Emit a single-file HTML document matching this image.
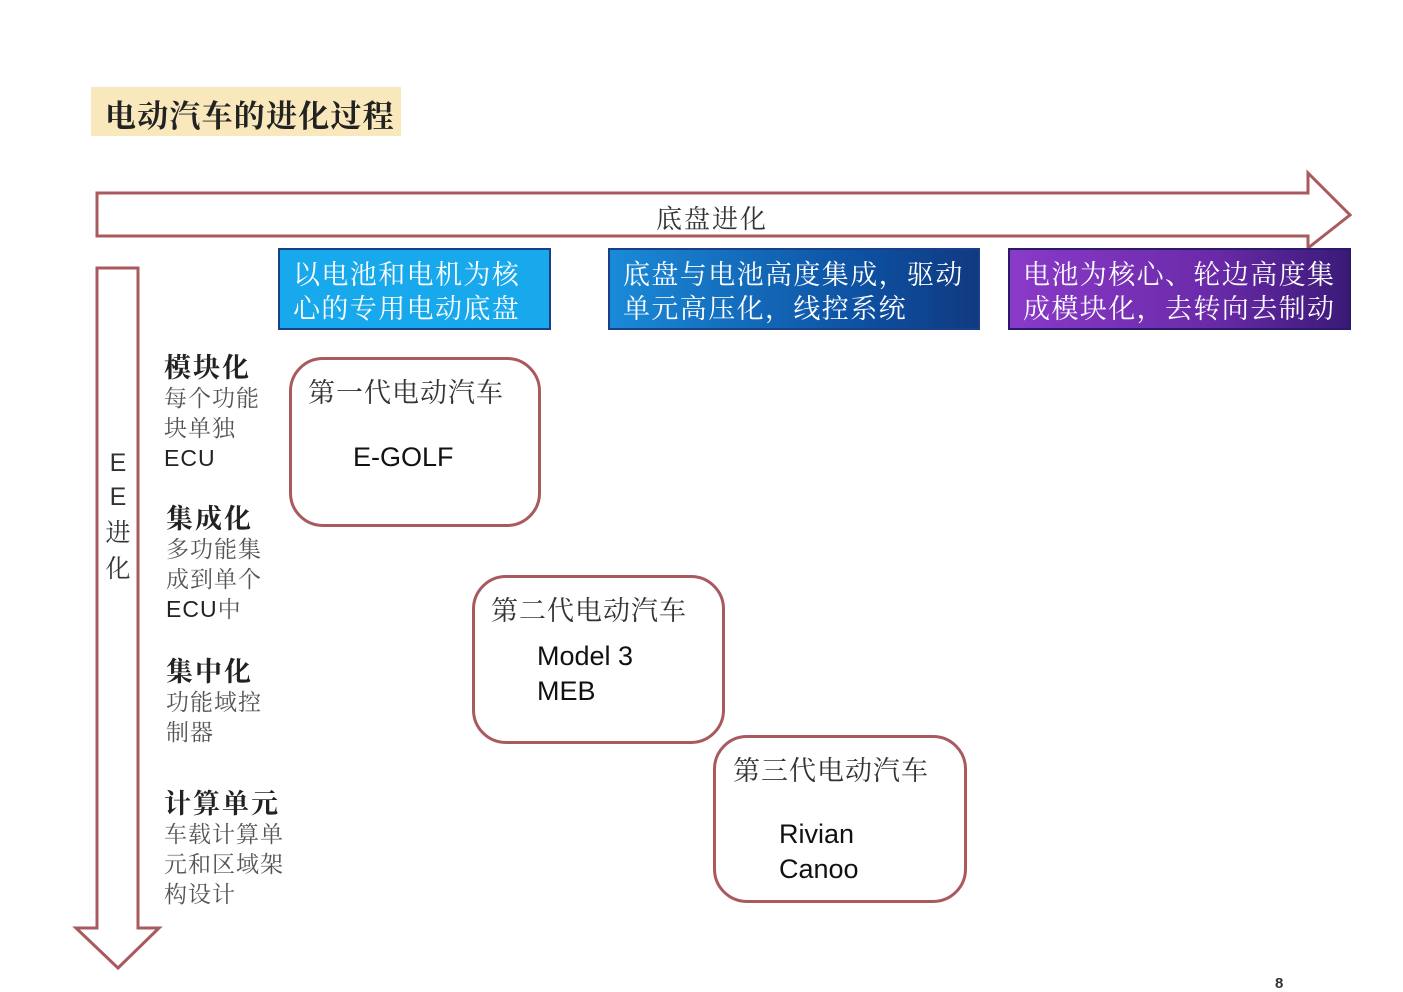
<!DOCTYPE html>
<html><head><meta charset="utf-8"><style>
body{margin:0;width:1403px;height:992px;background:#fff;position:relative;overflow:hidden;font-family:"Liberation Sans","Noto Sans CJK SC",sans-serif;}
.a{position:absolute}
.t{position:absolute;color:#fff;font-family:"Noto Serif CJK SC","Liberation Serif",serif;font-size:27px;letter-spacing:1.4px;line-height:34px;padding:6px 0 0 13px;box-sizing:border-box;border:2px solid #1a3f8a;white-space:nowrap}
.rb{position:absolute;border:3px solid #a85a5e;border-radius:34px;box-sizing:border-box;background:#fff}
.h{font-family:"Noto Serif CJK SC",serif;font-size:27px;letter-spacing:1px;color:#333}
.lab{position:absolute;font-family:"Noto Serif CJK SC",serif;color:#555;font-size:23px;letter-spacing:1px;line-height:30px}
.lab b{color:#222;font-size:27px;letter-spacing:2px;display:block;line-height:32px}
.e{font-family:"Liberation Sans",sans-serif;font-size:27px;color:#111;position:absolute}
</style></head><body>
<div class="a" style="left:91px;top:87px;width:310px;height:49px;background:#f8e8bc"></div>
<div class="a" style="left:105px;top:91px;font-family:'Noto Serif CJK SC',serif;font-weight:bold;font-size:31px;letter-spacing:1.2px;color:#222">电动汽车的进化过程</div>
<svg class="a" style="left:0;top:0" width="1403" height="992">
<polygon points="97,193 1308,193 1308,173 1350,215 1308,248 1308,236 97,236" fill="#fff" stroke="#a85a5e" stroke-width="3"/>
<polygon points="97,268 138,268 138,928 159,928 118,968 76,928 97,928" fill="#fff" stroke="#a85a5e" stroke-width="3"/>
</svg>
<div class="a h" style="left:656px;top:199px;font-size:26px;letter-spacing:2px">底盘进化</div>
<div class="a" style="left:104px;top:446px;width:28px;text-align:center;font-size:25px;line-height:34px;color:#333">E<br>E<br><span style="font-family:'Noto Serif CJK SC',serif">进<br>化</span></div>
<div class="t" style="left:278px;top:248px;width:273px;height:82px;background:#18a8ec">以电池和电机为核<br>心的专用电动底盘</div>
<div class="t" style="left:608px;top:248px;width:372px;height:82px;background:linear-gradient(90deg,#1a8ad8,#0e4fa0 70%,#103a80)">底盘与电池高度集成，驱动<br>单元高压化，线控系统</div>
<div class="t" style="left:1008px;top:248px;width:343px;height:82px;background:linear-gradient(90deg,#8a3ac8,#6a2aa8 60%,#3a1a78);border-color:#2a1a6a">电池为核心、轮边高度集<br>成模块化，去转向去制动</div>
<div class="lab" style="left:164px;top:350px"><b>模块化</b>每个功能<br>块单独<br><span style="font-family:'Liberation Sans';color:#222">ECU</span></div>
<div class="lab" style="left:166px;top:501px"><b>集成化</b>多功能集<br>成到单个<br><span style="font-family:'Liberation Sans';color:#222">ECU</span>中</div>
<div class="lab" style="left:166px;top:654px"><b>集中化</b>功能域控<br>制器</div>
<div class="lab" style="left:164px;top:786px"><b>计算单元</b>车载计算单<br>元和区域架<br>构设计</div>
<div class="rb" style="left:289px;top:357px;width:252px;height:170px"></div>
<div class="a h" style="left:308px;top:371px">第一代电动汽车</div>
<div class="e" style="left:353px;top:442px">E-GOLF</div>
<div class="rb" style="left:472px;top:575px;width:253px;height:169px"></div>
<div class="a h" style="left:491px;top:589px">第二代电动汽车</div>
<div class="e" style="left:537px;top:639px;line-height:35px">Model 3<br>MEB</div>
<div class="rb" style="left:713px;top:735px;width:254px;height:168px"></div>
<div class="a h" style="left:733px;top:749px">第三代电动汽车</div>
<div class="e" style="left:779px;top:817px;line-height:35px">Rivian<br>Canoo</div>
<div class="a" style="left:1275px;top:975px;font-size:15px;font-weight:bold;color:#333">8</div>
</body></html>
